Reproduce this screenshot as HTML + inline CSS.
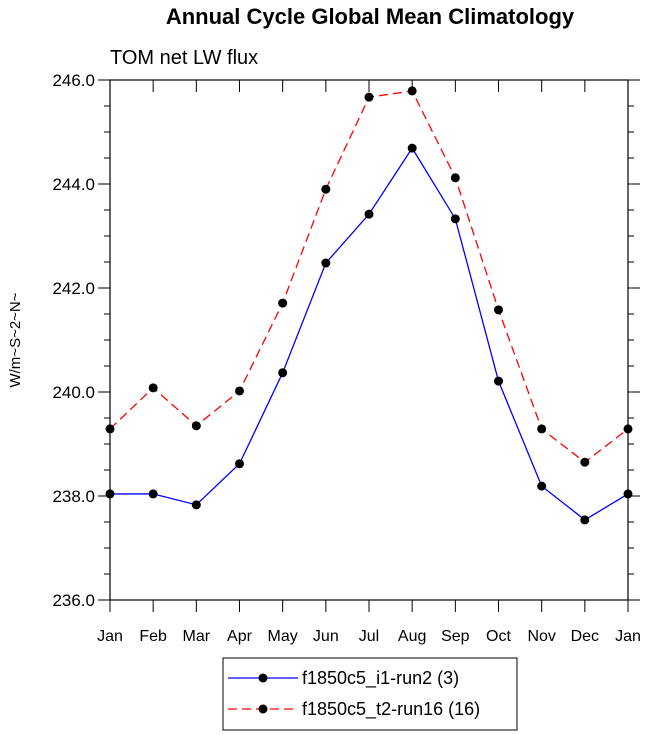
<!DOCTYPE html>
<html><head><meta charset="utf-8"><style>body{margin:0;background:#fff}svg{display:block}</style></head>
<body>
<svg id="c" width="648" height="735" xmlns="http://www.w3.org/2000/svg" font-family="Liberation Sans, sans-serif">
<text x="370" y="24" font-size="22" font-weight="bold" text-anchor="middle">Annual Cycle Global Mean Climatology</text>
<text x="110" y="64" font-size="20">TOM net LW flux</text>
<text transform="translate(20,340) rotate(-90)" font-size="15" text-anchor="middle">W/m~S~2~N~</text>
<g id="axes"></g>
<g id="series"></g>
<g>
<rect x="223" y="658" width="294" height="72" fill="none" stroke="#000" stroke-width="1"/>
<g>
<line x1="228" y1="678" x2="298" y2="678" stroke="#00f" stroke-width="1.3"/><circle cx="263" cy="678" r="4.5"/>
<text x="302" y="684" font-size="18">f1850c5_i1-run2 (3)</text></g>
<g>
<line x1="228" y1="709" x2="298" y2="709" stroke="#f00" stroke-width="1.3" stroke-dasharray="9,5"/><circle cx="263" cy="709" r="4.5"/>
<text x="302" y="715" font-size="18">f1850c5_t2-run16 (16)</text></g>
</g>
</svg>
<script>
const months=["Jan","Feb","Mar","Apr","May","Jun","Jul","Aug","Sep","Oct","Nov","Dec","Jan"];
const run2=[238.04,238.04,237.83,238.62,240.37,242.48,243.42,244.69,243.33,240.21,238.19,237.54,238.04];
const run16=[239.29,240.08,239.35,240.02,241.71,243.90,245.67,245.79,244.12,241.58,239.29,238.65,239.29];
const yTicks=[236,238,240,242,244,246];
const yMin=236,yMax=246;
const L=110,R=628,T=80,B=600;
const NS="http://www.w3.org/2000/svg";
const xs=i=>L+(R-L)*i/(months.length-1);
const ys=v=>B-(v-yMin)/(yMax-yMin)*(B-T);
function mk(t,a,p){const e=document.createElementNS(NS,t);for(const k in a)e.setAttribute(k,a[k]);p.appendChild(e);return e;}
const ax=document.getElementById('axes');
const frame=mk('rect',{x:L,y:T,width:R-L,height:B-T,fill:'none',stroke:'#000','stroke-width':1.2},ax);


for(let v=yMin;v<=yMax+1e-9;v+=0.5){
  const y=ys(v),maj=Math.abs(v-Math.round(v/2)*2)<1e-6,len=maj?12:6;
  mk('line',{x1:L-len,y1:y,x2:L,y2:y,stroke:'#000','stroke-width':1},ax);
  mk('line',{x1:R,y1:y,x2:R+len,y2:y,stroke:'#000','stroke-width':1},ax);
}
yTicks.forEach(v=>{const t=mk('text',{x:L-15,y:ys(v)+6,'font-size':17,'text-anchor':'end'},ax);t.textContent=v.toFixed(1);

});
months.forEach((m,i)=>{const x=xs(i);
  mk('line',{x1:x,y1:B,x2:x,y2:B+12,stroke:'#000','stroke-width':1},ax);
  mk('line',{x1:x,y1:T,x2:x,y2:T+12,stroke:'#000','stroke-width':1},ax);
  const t=mk('text',{x:x,y:B+41,'font-size':16,'text-anchor':'middle'},ax);t.textContent=m;
  
  });
const sg=document.getElementById('series');
function series(vals,color,dash,name){
  const p=mk('polyline',{points:vals.map((v,i)=>xs(i)+','+ys(v)).join(' '),fill:'none',stroke:color,'stroke-width':1.3,'stroke-dasharray':dash},sg);
  
  
  vals.forEach((v,i)=>{const c=mk('circle',{cx:xs(i),cy:ys(v),r:4.5,fill:'#000'},sg);
    
    });
}
series(run16,'#f00','9,5','run16');
series(run2,'#00f','none','run2');
</script>
</body></html>
